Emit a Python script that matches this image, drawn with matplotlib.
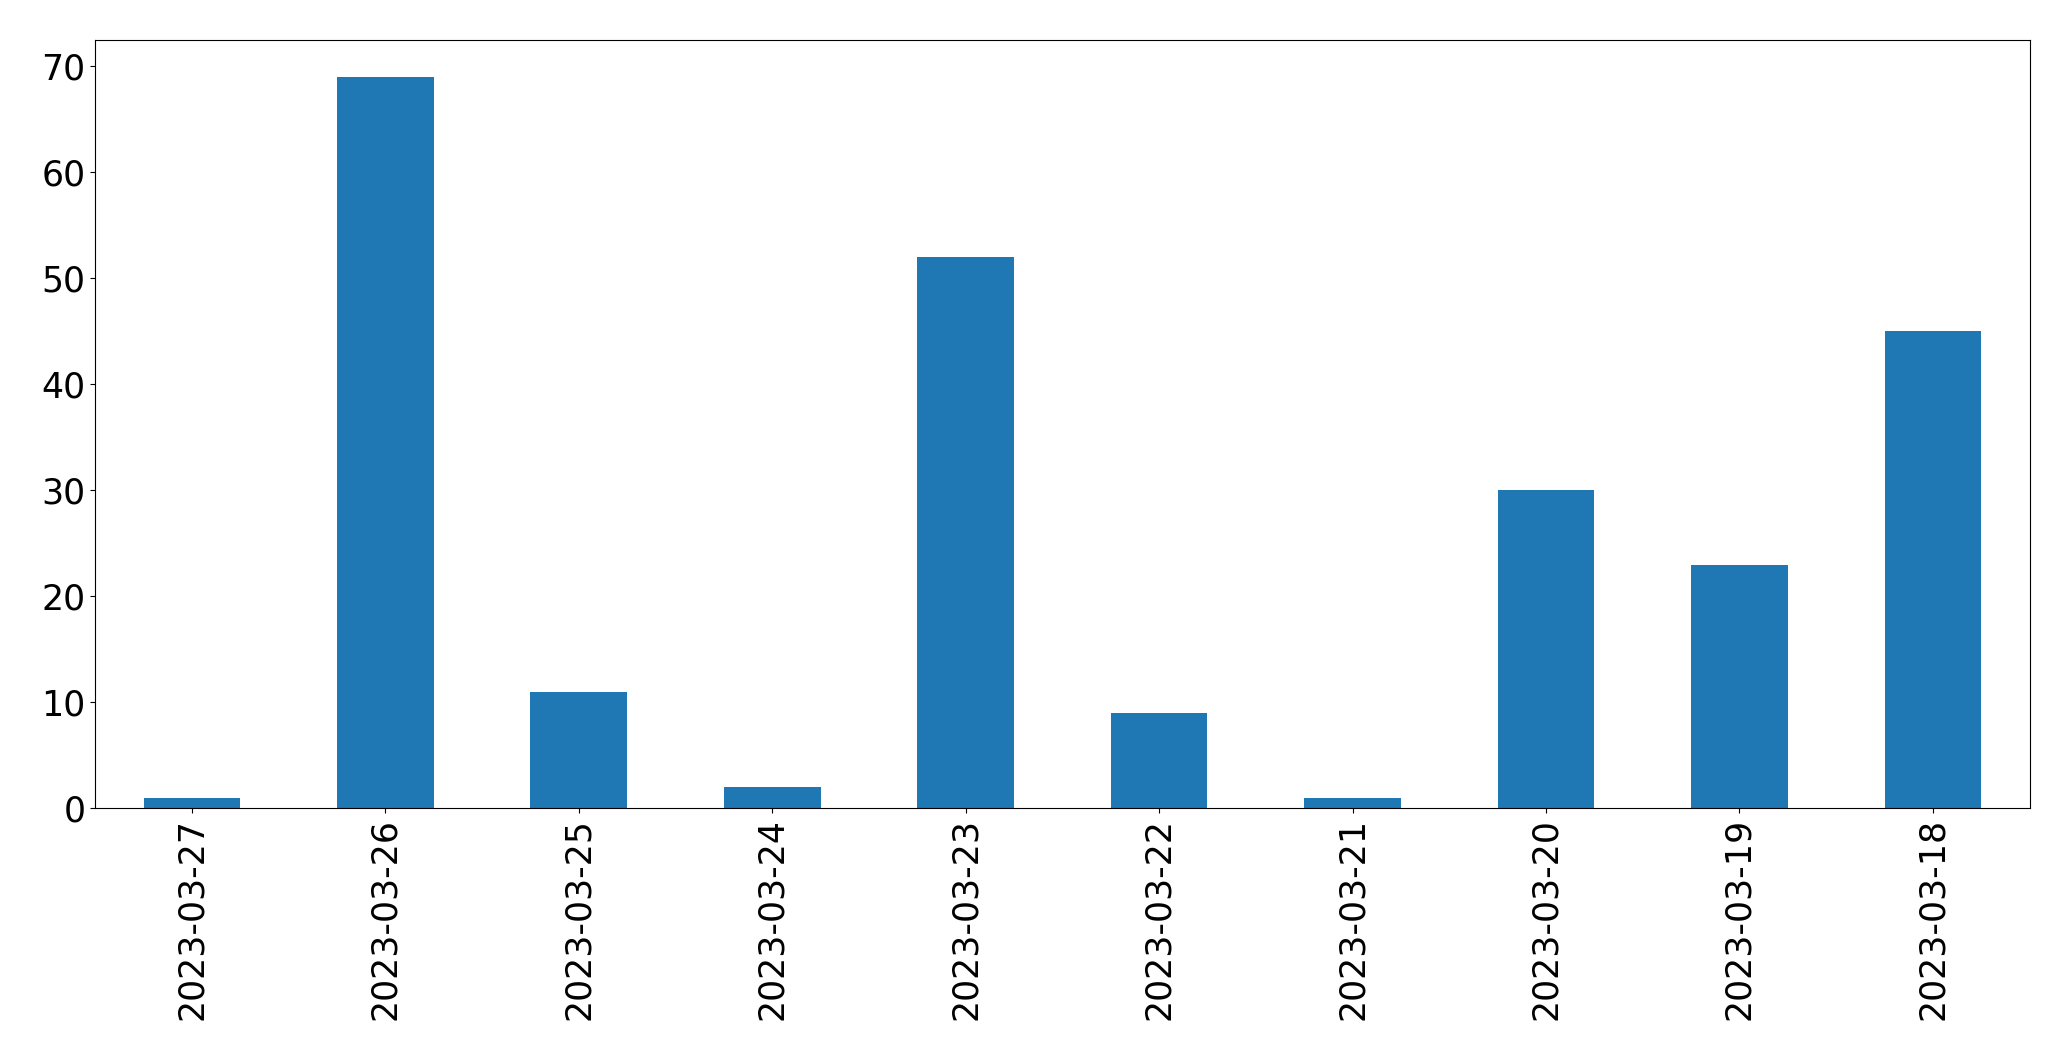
import matplotlib

matplotlib.use("Agg")
import matplotlib.pyplot as plt
import numpy as np

dates = [
    "2023-03-27",
    "2023-03-26",
    "2023-03-25",
    "2023-03-24",
    "2023-03-23",
    "2023-03-22",
    "2023-03-21",
    "2023-03-20",
    "2023-03-19",
    "2023-03-18",
]
counts = [1, 69, 11, 2, 52, 9, 1, 30, 23, 45]

# .. Plot.
fig, ax = plt.subplots(figsize=(20.71, 10.61), dpi=100)
x = np.arange(len(dates))
ax.bar(x, counts, width=0.5, color="#1f77b4")
ax.set_xticks(x)
ax.set_xticklabels(dates, rotation=90)
ax.set_xlim(-0.5, len(dates) - 0.5)
ax.tick_params(axis="both", labelsize=25)
fig.subplots_adjust(left=0.046, right=0.98, top=0.962, bottom=0.238)
fig.savefig("out.png")
